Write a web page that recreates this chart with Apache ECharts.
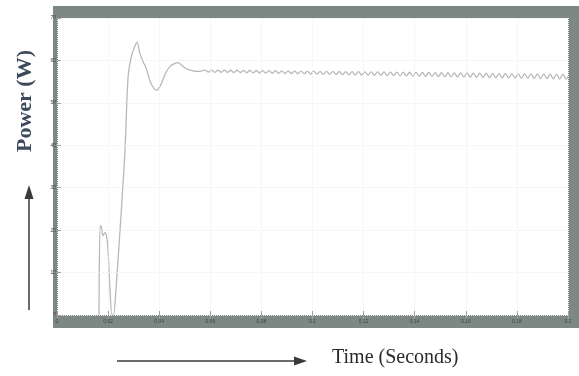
<!DOCTYPE html>
<html>
<head>
<meta charset="utf-8">
<script src="https://cdn.jsdelivr.net/npm/echarts@6/dist/echarts.min.js"></script>
<style>
html,body{margin:0;padding:0;background:#fff;}
#chart{width:579px;height:376px;}
</style>
</head>
<body>
<div id="chart"></div>
<script>
// X tick labels (seconds) and Y tick labels
const xTicks = [0, 0.02, 0.04, 0.06, 0.08, 0.1, 0.12, 0.14, 0.16, 0.18, 0.2];
const yTicks = [0, 10, 20, 30, 40, 50, 60, 70];

// Transient part: time (s) and power
const tStart = [0.01644, 0.01683, 0.01722, 0.0180, 0.01879, 0.0194, 0.01996, 0.02074, 0.02153, 0.0221,
  0.02309, 0.02544, 0.02661, 0.02779, 0.02896, 0.03014, 0.03131, 0.03249, 0.03366, 0.03483,
  0.0364, 0.03796, 0.03914, 0.0407, 0.04227, 0.04423, 0.04618, 0.04736, 0.04892, 0.05049,
  0.05284, 0.05519];
const pStart = [0, 21.0, 21.0, 18.7, 19.4, 18.5, 15.4, 6.1, 0, 0,
  6.1, 27.1, 38.7, 55.8, 60.6, 62.8, 64.3, 61.6, 59.7, 58.3,
  55.1, 53.4, 53.0, 54.4, 56.7, 58.6, 59.3, 59.5, 58.8, 58.1,
  57.6, 57.4];

// Steady-state ripple part
const tRipple = [0.05800,0.05925,0.06050,0.06175,0.06300,0.06425,0.06550,0.06675,0.06800,0.06925,
  0.07050,0.07175,0.07300,0.07425,0.07550,0.07675,0.07800,0.07925,0.08050,0.08175,
  0.08300,0.08425,0.08550,0.08675,0.08800,0.08925,0.09050,0.09175,0.09300,0.09425,
  0.09550,0.09675,0.09800,0.09925,0.10050,0.10175,0.10300,0.10425,0.10550,0.10675,
  0.10800,0.10925,0.11050,0.11175,0.11300,0.11425,0.11550,0.11675,0.11800,0.11925,
  0.12050,0.12175,0.12300,0.12425,0.12550,0.12675,0.12800,0.12925,0.13050,0.13175,
  0.13300,0.13425,0.13550,0.13675,0.13800,0.13925,0.14050,0.14175,0.14300,0.14425,
  0.14550,0.14675,0.14800,0.14925,0.15050,0.15175,0.15300,0.15425,0.15550,0.15675,
  0.15800,0.15925,0.16050,0.16175,0.16300,0.16425,0.16550,0.16675,0.16800,0.16925,
  0.17050,0.17175,0.17300,0.17425,0.17550,0.17675,0.17800,0.17925,0.18050,0.18175,
  0.18300,0.18425,0.18550,0.18675,0.18800,0.18925,0.19050,0.19175,0.19300,0.19425,
  0.19550,0.19675,0.19800,0.19925,0.20000];
const pRipple = [57.70,57.25,57.72,57.22,57.70,57.20,57.71,57.18,57.68,57.14,
  57.69,57.13,57.66,57.10,57.65,57.06,57.63,57.03,57.62,57.00,
  57.60,56.98,57.58,56.95,57.56,56.92,57.55,56.89,57.52,56.86,
  57.50,56.83,57.48,56.80,57.46,56.77,57.44,56.74,57.42,56.71,
  57.40,56.68,57.39,56.65,57.37,56.61,57.35,56.58,57.34,56.55,
  57.32,56.52,57.30,56.49,57.29,56.46,57.27,56.43,57.25,56.40,
  57.24,56.37,57.22,56.34,57.21,56.31,57.19,56.28,57.17,56.25,
  57.16,56.22,57.14,56.19,57.12,56.16,57.10,56.13,57.09,56.10,
  57.07,56.07,57.05,56.04,57.03,56.01,57.01,55.98,56.99,55.95,
  56.97,55.92,56.95,55.90,56.93,55.87,56.91,55.84,56.89,55.81,
  56.87,55.78,56.85,55.75,56.83,55.72,56.81,55.69,56.79,55.66,
  56.77,55.63,56.75,55.60,56.20];

const times = tStart.concat(tRipple);
const powers = pStart.concat(pRipple);
const seriesData = times.map((t, i) => [t, powers[i]]);

const chart = echarts.init(document.getElementById('chart'), null, {renderer: 'canvas'});
const frame = '#7d8884';
const G = {left: 57, right: 11, top: 18, bottom: 61};

const tickStyle = {show: true, inside: true, length: 4, lineStyle: {color: '#a0a0a0', width: 1}};
const splitStyle = {show: true, lineStyle: {color: '#eeeeee', type: 'dotted', width: 1}};

chart.setOption({
  animation: false,
  backgroundColor: '#ffffff',
  grid: {left: G.left, right: G.right, top: G.top, bottom: G.bottom, show: false},
  xAxis: [{
    type: 'value', min: xTicks[0], max: xTicks[xTicks.length - 1], interval: 0.02,
    position: 'bottom', z: 10,
    axisLine: {show: false},
    axisTick: tickStyle,
    splitLine: splitStyle,
    axisLabel: {show: true, fontSize: 5, color: '#3e4442', margin: 4,
      formatter: v => String(+v.toFixed(2))}
  }, {
    type: 'value', min: xTicks[0], max: xTicks[xTicks.length - 1], interval: 0.02,
    position: 'top', z: 10,
    axisLine: {show: false}, axisTick: tickStyle, splitLine: {show: false}, axisLabel: {show: false}
  }],
  yAxis: [{
    type: 'value', min: yTicks[0], max: yTicks[yTicks.length - 1], interval: 10,
    position: 'left', z: 10,
    axisLine: {show: false},
    axisTick: tickStyle,
    splitLine: splitStyle,
    axisLabel: {show: true, fontSize: 5, color: '#3e4442', margin: 1}
  }, {
    type: 'value', min: yTicks[0], max: yTicks[yTicks.length - 1], interval: 10,
    position: 'right', z: 10,
    axisLine: {show: false}, axisTick: tickStyle, splitLine: {show: false}, axisLabel: {show: false}
  }],
  series: [{
    type: 'line', xAxisIndex: 0, yAxisIndex: 0,
    data: seriesData, showSymbol: false, smooth: 0.3,
    lineStyle: {color: '#b8b8b8', width: 1.3},
    z: 2
  }],
  graphic: [
    {type: 'rect', z: 3, shape: {x: 53, y: 6, width: 526, height: 12}, style: {fill: frame}},
    {type: 'rect', z: 3, shape: {x: 53, y: 315, width: 526, height: 13}, style: {fill: frame}},
    {type: 'rect', z: 3, shape: {x: 53, y: 6, width: 5, height: 322}, style: {fill: frame}},
    {type: 'rect', z: 3, shape: {x: 568, y: 6, width: 11, height: 322}, style: {fill: frame}},
    // vertical arrow
    {type: 'line', z: 3, shape: {x1: 29, y1: 310, x2: 29, y2: 196}, style: {stroke: '#3a3a3a', lineWidth: 1.5}},
    {type: 'polygon', z: 3, shape: {points: [[29, 185], [24.5, 199], [33.5, 199]]}, style: {fill: '#3a3a3a'}},
    // horizontal arrow
    {type: 'line', z: 3, shape: {x1: 117, y1: 361, x2: 298, y2: 361}, style: {stroke: '#3a3a3a', lineWidth: 1.5}},
    {type: 'polygon', z: 3, shape: {points: [[307, 361], [294, 356.5], [294, 365.5]]}, style: {fill: '#3a3a3a'}},
    // axis titles
    {type: 'text', z: 3, x: 25, y: 101, rotation: Math.PI / 2,
      style: {text: 'Power (W)', font: 'bold 22px "Liberation Serif"', fill: '#3d4a5a',
        textAlign: 'center', textVerticalAlign: 'middle'}},
    {type: 'text', z: 3, x: 332, y: 358,
      style: {text: 'Time (Seconds)', font: '20px "Liberation Serif"', fill: '#2a2a2a',
        textAlign: 'left', textVerticalAlign: 'middle'}}
  ]
});
</script>
</body>
</html>
